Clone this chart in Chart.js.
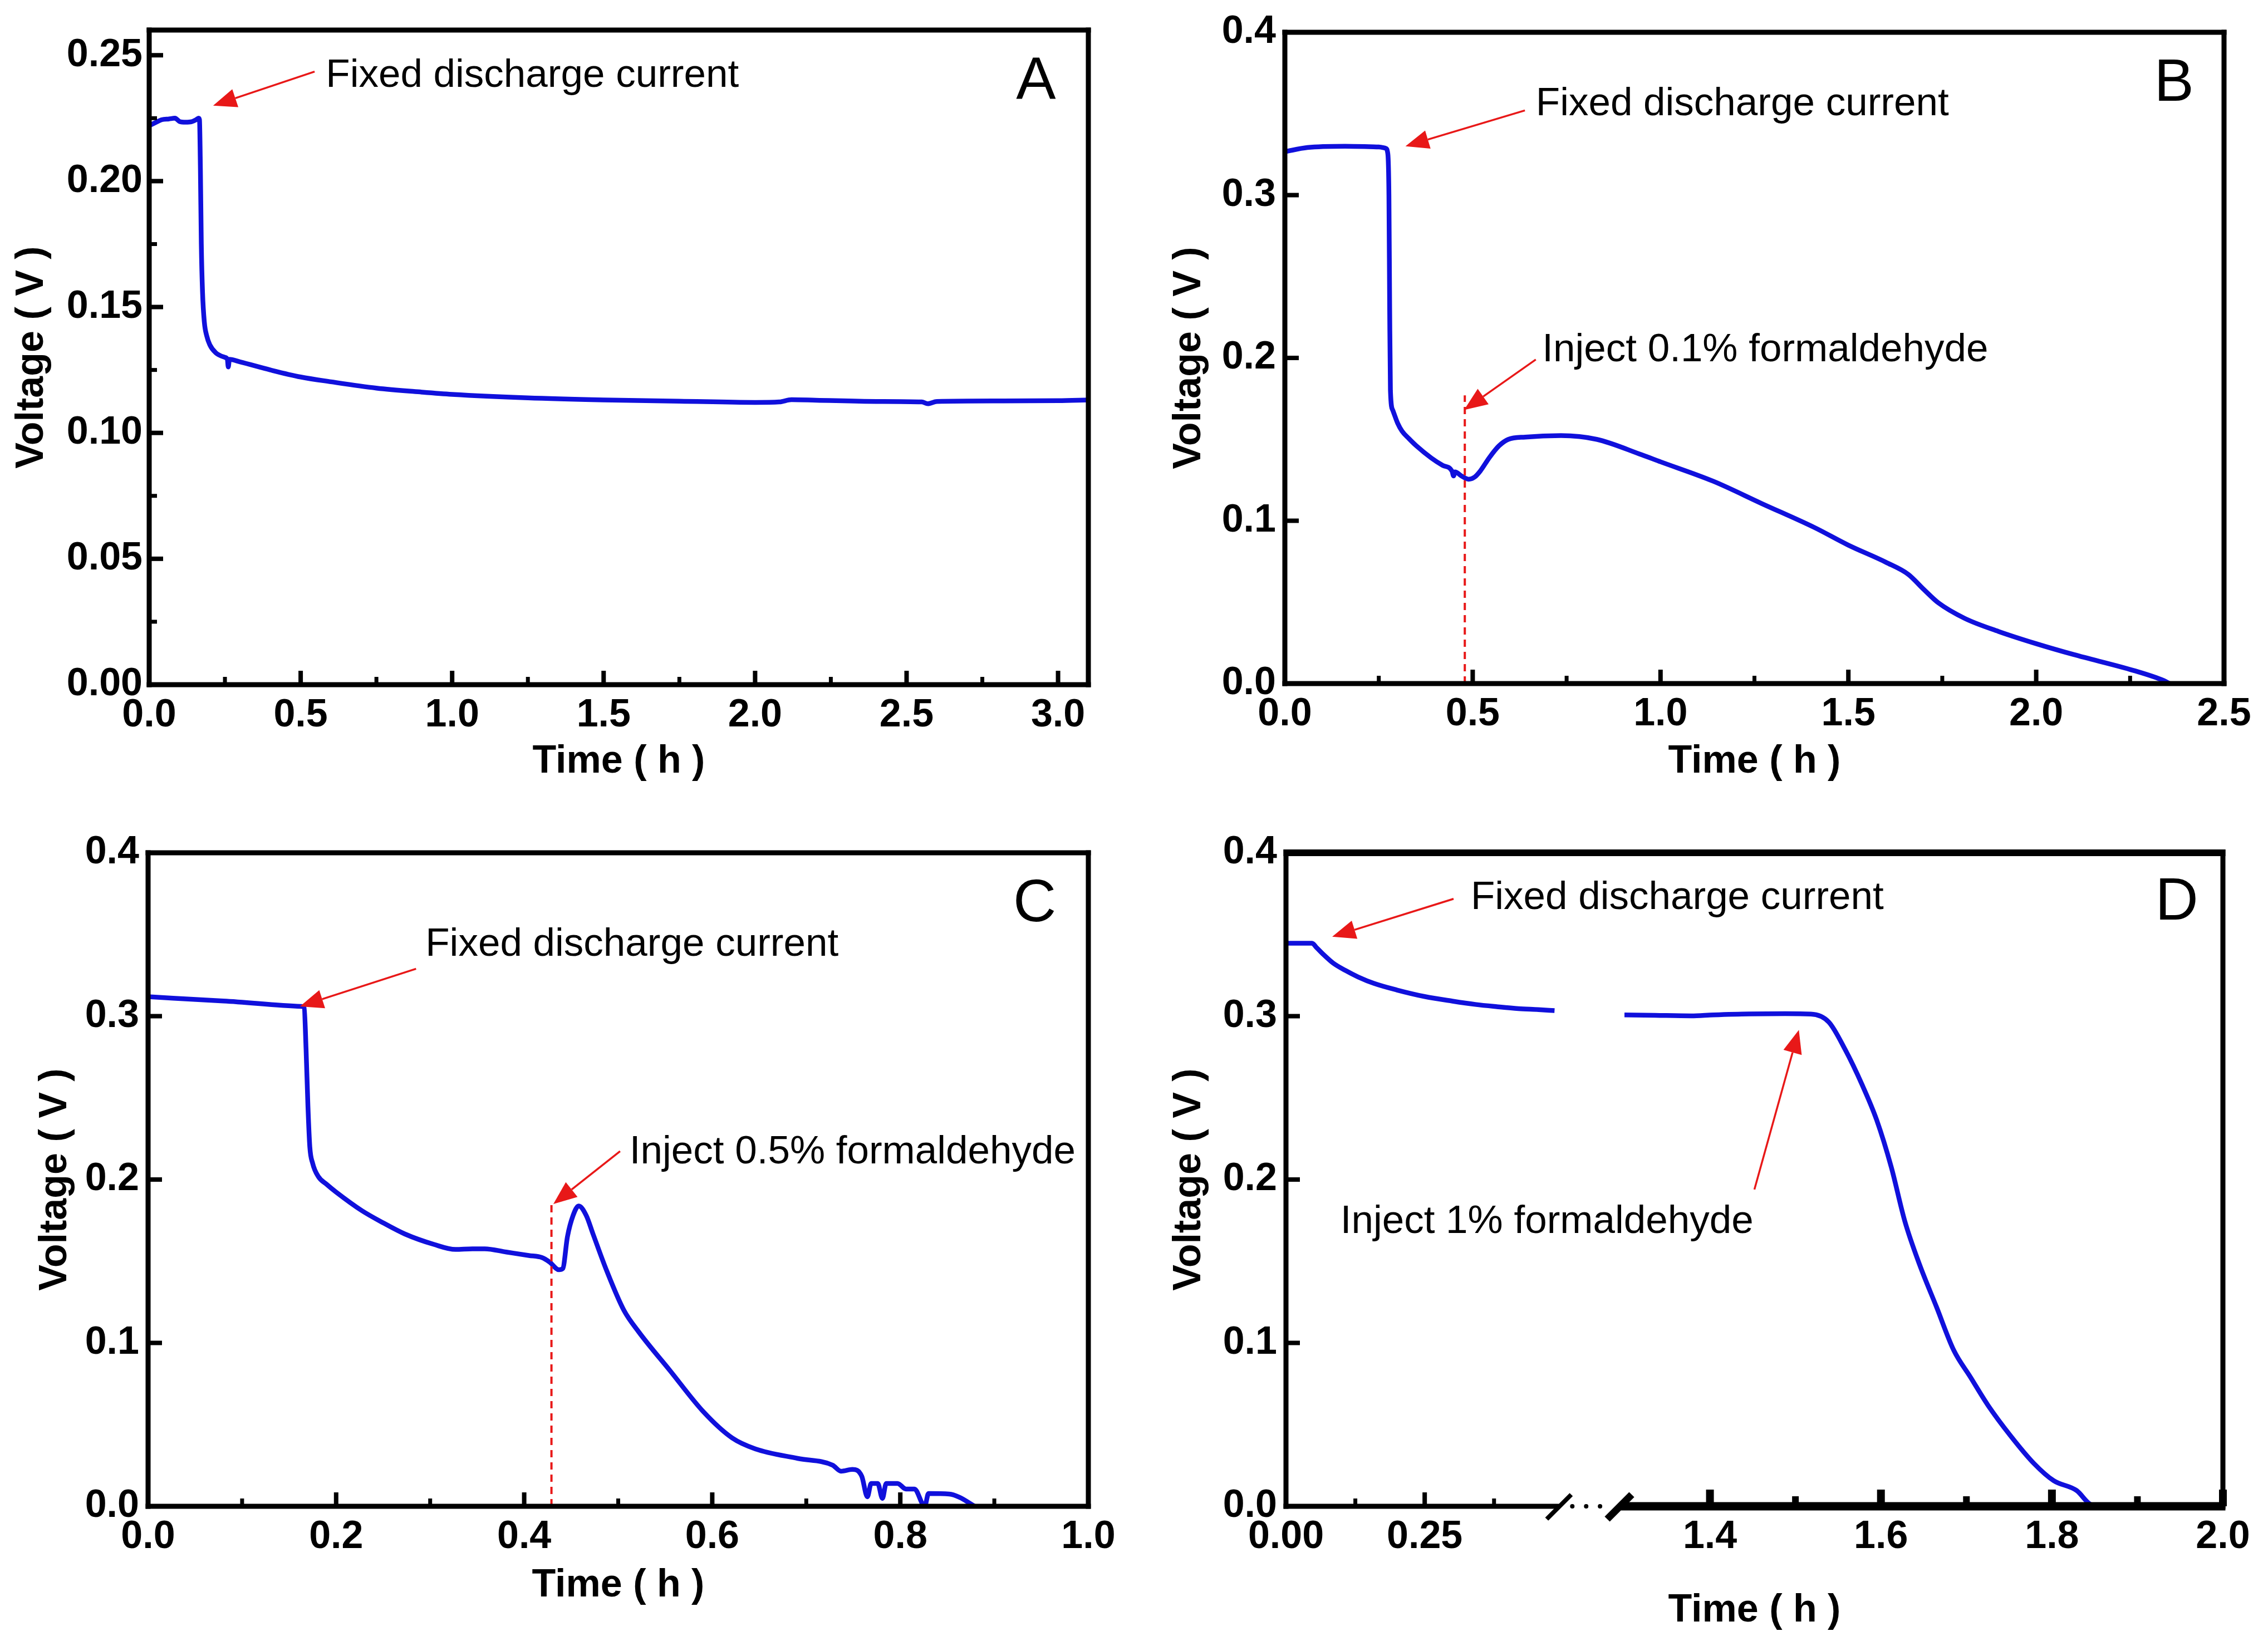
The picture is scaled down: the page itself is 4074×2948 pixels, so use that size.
<!DOCTYPE html>
<html>
<head>
<meta charset="utf-8">
<title>Voltage vs time</title>
<script src="https://cdn.jsdelivr.net/npm/chart.js@4.4.1/dist/chart.umd.min.js"></script>
<style>
  html, body { margin:0; padding:0; background:#ffffff; }
  body { width:4074px; height:2948px; position:relative; overflow:hidden; }
  .panel { position:absolute; width:2037px; height:1474px; }
  canvas { display:block; }
</style>
</head>
<body>
<div class="panel" style="left:0px;top:0px"><canvas id="chartA" width="2037" height="1474"></canvas></div>
<div class="panel" style="left:2037px;top:0px"><canvas id="chartB" width="2037" height="1474"></canvas></div>
<div class="panel" style="left:0px;top:1474px"><canvas id="chartC" width="2037" height="1474"></canvas></div>
<div class="panel" style="left:2037px;top:1474px"><canvas id="chartD" width="2037" height="1474"></canvas></div>
<script>
// ---------------- DATA ----------------
// Panel A
const timeA = [0, 0.02, 0.042, 0.065, 0.085, 0.10, 0.12, 0.14, 0.155, 0.163, 0.166, 0.169, 0.172, 0.176, 0.182, 0.19, 0.20, 0.22, 0.25, 0.258, 0.261, 0.265, 0.30, 0.40, 0.50, 0.60, 0.75, 0.90, 1.00, 1.25, 1.50, 1.75, 2.00, 2.08, 2.12, 2.20, 2.40, 2.55, 2.57, 2.60, 2.80, 3.00, 3.10];
const voltA = [0.2220, 0.2232, 0.2244, 0.2247, 0.2250, 0.2237, 0.2234, 0.2236, 0.2244, 0.2250, 0.2244, 0.2050, 0.1750, 0.1560, 0.1440, 0.1385, 0.1350, 0.1318, 0.1300, 0.1292, 0.1262, 0.1292, 0.1282, 0.1250, 0.1222, 0.1203, 0.1178, 0.1162, 0.1153, 0.1139, 0.1131, 0.1126, 0.1121, 0.1123, 0.1132, 0.1130, 0.1125, 0.1123, 0.1116, 0.1125, 0.1127, 0.1128, 0.1131];
const xTicksA = [0, 0.5, 1.0, 1.5, 2.0, 2.5, 3.0];
const xMinorA = [0.25, 0.75, 1.25, 1.75, 2.25, 2.75];
const yTicksA = [0, 0.05, 0.10, 0.15, 0.20, 0.25];
const yMinorA = [0.025, 0.075, 0.125, 0.175, 0.225];

// Panel B
const timeB = [0, 0.06, 0.16, 0.25, 0.268, 0.274, 0.277, 0.279, 0.281, 0.287, 0.30, 0.312, 0.33, 0.35, 0.39, 0.42, 0.445, 0.449, 0.453, 0.47, 0.489, 0.505, 0.52, 0.545, 0.57, 0.595, 0.64, 0.735, 0.83, 0.95, 1.00, 1.14, 1.27, 1.41, 1.50, 1.60, 1.66, 1.70, 1.74, 1.81, 1.90, 2.00, 2.10, 2.26, 2.34, 2.355];
const voltB = [0.3267, 0.3292, 0.3300, 0.3296, 0.3288, 0.3255, 0.3000, 0.2300, 0.1800, 0.1680, 0.1600, 0.1550, 0.1505, 0.1460, 0.1385, 0.1340, 0.1305, 0.1275, 0.1300, 0.1275, 0.1255, 0.1268, 0.1305, 0.1390, 0.1460, 0.1500, 0.1514, 0.1523, 0.1500, 0.1405, 0.1362, 0.1243, 0.1105, 0.0958, 0.0850, 0.0745, 0.0670, 0.0580, 0.0495, 0.0400, 0.0320, 0.0245, 0.0178, 0.0080, 0.0018, 0.0000];
const xTicksB = [0, 0.5, 1.0, 1.5, 2.0, 2.5];
const xMinorB = [0.25, 0.75, 1.25, 1.75, 2.25];
const yTicksBCD = [0, 0.1, 0.2, 0.3, 0.4];

// Panel C
const timeC = [0, 0.08, 0.163, 0.166, 0.168, 0.170, 0.172, 0.175, 0.181, 0.19, 0.20, 0.227, 0.25, 0.273, 0.304, 0.327, 0.345, 0.358, 0.381, 0.405, 0.419, 0.427, 0.437, 0.441, 0.446, 0.452, 0.458, 0.466, 0.473, 0.488, 0.506, 0.522, 0.555, 0.591, 0.621, 0.646, 0.691, 0.728, 0.737, 0.749, 0.759, 0.765, 0.769, 0.776, 0.781, 0.785, 0.797, 0.806, 0.815, 0.826, 0.830, 0.852, 0.863, 0.879];
const voltC = [0.3119, 0.3093, 0.3060, 0.3052, 0.2800, 0.2450, 0.2200, 0.2100, 0.2019, 0.1970, 0.1923, 0.1811, 0.1735, 0.1667, 0.1603, 0.1572, 0.1576, 0.1576, 0.1556, 0.1535, 0.1522, 0.1495, 0.1448, 0.1455, 0.1650, 0.1780, 0.1838, 0.1780, 0.1670, 0.1438, 0.1200, 0.1066, 0.0831, 0.0576, 0.0419, 0.0351, 0.0293, 0.0252, 0.0215, 0.0226, 0.0184, 0.0058, 0.0140, 0.0140, 0.0048, 0.0140, 0.0140, 0.0106, 0.0106, 0.0000, 0.0078, 0.0075, 0.0055, 0.0000];
const xTicksC = [0, 0.2, 0.4, 0.6, 0.8, 1.0];
const xMinorC = [0.1, 0.3, 0.5, 0.7, 0.9];

// Panel D (broken time axis)
const timeD1 = [0, 0.047, 0.055, 0.068, 0.085, 0.107, 0.13, 0.159, 0.20, 0.25, 0.30, 0.341, 0.38, 0.419, 0.455, 0.484];
const voltD1 = [0.3446, 0.3446, 0.3420, 0.3376, 0.3325, 0.3280, 0.3240, 0.3200, 0.3160, 0.3120, 0.3092, 0.3072, 0.3058, 0.3046, 0.3040, 0.3034];
const timeD2 = [1.30, 1.336, 1.378, 1.404, 1.446, 1.488, 1.518, 1.539, 1.558, 1.578, 1.595, 1.612, 1.628, 1.645, 1.665, 1.685, 1.705, 1.725, 1.752, 1.779, 1.802, 1.829, 1.845, 1.858];
const voltD2 = [0.3008, 0.3005, 0.3002, 0.3008, 0.3014, 0.3015, 0.3013, 0.2964, 0.2797, 0.2580, 0.2365, 0.2078, 0.1744, 0.1482, 0.1220, 0.0957, 0.0788, 0.0620, 0.0429, 0.0262, 0.0157, 0.0096, 0.0012, 0.0000];
const xTicksD1 = [0, 0.25];
const xMinorD1 = [0.125, 0.375];
const xTicksD2 = [1.4, 1.6, 1.8, 2.0];
const xMinorD2 = [1.5, 1.7, 1.9];

// ---------------- STYLE ----------------
const FONT = '"Liberation Sans", Arial, Helvetica, sans-serif';
const BLUE = 'rgb(16,16,220)';
const RED = 'rgb(232,24,24)';
const TICK_FONT = { family: FONT, size: 70, weight: 'bold' };
const TITLE_FONT = { family: FONT, size: 70, weight: 'bold' };

function pts(xs, ys) { return xs.map((x, i) => ({ x: x, y: ys[i] })); }

function series(xs, ys, xAxisID) {
  return {
    data: pts(xs, ys), xAxisID: xAxisID || 'x', yAxisID: 'y',
    showLine: true, borderColor: BLUE, borderWidth: 8.5, pointRadius: 0,
    fill: false, cubicInterpolationMode: 'monotone'
  };
}

function xScale(min, max, ticks, dec, height, titleText, extra) {
  return Object.assign({
    type: 'linear', position: 'bottom', min: min, max: max, offset: false,
    afterBuildTicks: s => { s.ticks = ticks.map(v => ({ value: v })); },
    afterFit: s => { s.height = height; },
    grid: { display: false, drawTicks: false },
    border: { display: false },
    ticks: { autoSkip: false, maxRotation: 0, minRotation: 0, padding: 14, color: '#000', font: TICK_FONT,
             callback: v => Number(v).toFixed(dec) },
    title: titleText ? { display: true, text: titleText, color: '#000', font: TITLE_FONT, padding: { top: 0, bottom: 0 } } : { display: false }
  }, extra || {});
}

function yScale(min, max, ticks, dec, width, titlePad, labelPad) {
  return {
    type: 'linear', position: 'left', min: min, max: max,
    afterBuildTicks: s => { s.ticks = ticks.map(v => ({ value: v })); },
    afterFit: s => { s.width = width; },
    grid: { display: false, drawTicks: false },
    border: { display: false },
    ticks: { autoSkip: false, padding: labelPad, color: '#000', font: TICK_FONT,
             callback: v => Number(v).toFixed(dec) },
    title: { display: true, text: 'Voltage ( V )', color: '#000', font: TITLE_FONT, padding: { top: titlePad, bottom: 0 } }
  };
}

function drawArrow(ctx, x0, y0, x1, y1) {
  const a = Math.atan2(y1 - y0, x1 - x0);
  const hl = 42, hw = 17;
  const bx = x1 - hl * Math.cos(a), by = y1 - hl * Math.sin(a);
  ctx.strokeStyle = RED; ctx.lineWidth = 3.5; ctx.lineCap = 'butt';
  ctx.beginPath(); ctx.moveTo(x0, y0); ctx.lineTo(bx, by); ctx.stroke();
  ctx.fillStyle = RED;
  ctx.beginPath();
  ctx.moveTo(x1, y1);
  ctx.lineTo(bx + hw * Math.sin(a), by - hw * Math.cos(a));
  ctx.lineTo(bx - hw * Math.sin(a), by + hw * Math.cos(a));
  ctx.closePath(); ctx.fill();
}

function line(ctx, x0, y0, x1, y1, w, cap) {
  ctx.lineWidth = w; ctx.lineCap = cap || 'butt';
  ctx.beginPath(); ctx.moveTo(x0, y0); ctx.lineTo(x1, y1); ctx.stroke();
}

function decor(cfg) {
  return {
    id: 'decor',
    afterDatasetsDraw(chart) {
      const ctx = chart.ctx, ca = chart.chartArea, ys = chart.scales.y;
      ctx.save();
      // dashed injection marker
      (cfg.dashed || []).forEach(d => {
        const px = chart.scales[d.xs].getPixelForValue(d.x);
        ctx.strokeStyle = RED; ctx.setLineDash([13, 9]);
        line(ctx, px, ys.getPixelForValue(0), px, ys.getPixelForValue(d.top), 4);
        ctx.setLineDash([]);
      });
      // inward ticks
      ctx.strokeStyle = '#000';
      Object.values(chart.scales).forEach(s => {
        const isX = s.axis === 'x';
        const st = (cfg.tickStyle && cfg.tickStyle[s.id]) || { w: [8, 7], l: [25, 14] };
        const draw = (v, k) => {
          const p = s.getPixelForValue(v);
          if (isX) line(ctx, p, ca.bottom, p, ca.bottom - st.l[k], st.w[k]);
          else line(ctx, ca.left, p, ca.left + st.l[k], p, st.w[k]);
        };
        s.ticks.forEach(t => draw(t.value, 0));
        ((cfg.minor || {})[s.id] || []).forEach(v => draw(v, 1));
      });
      // frame
      const f = cfg.frame;
      const L = ca.left, R = ca.right, T = ca.top, B = ca.bottom;
      line(ctx, L - f.l / 2, T, R + f.r / 2, T, f.t);
      line(ctx, L, T - f.t / 2, L, B + f.b / 2, f.l);
      line(ctx, R, T - f.t / 2, R, B + f.b / 2, f.r);
      if (!cfg.axisBreak) {
        line(ctx, L - f.l / 2, B, R + f.r / 2, B, f.b);
      } else {
        const br = cfg.axisBreak;
        const s1 = chart.scales[br.xs1], s2 = chart.scales[br.xs2];
        const c1 = s1.getPixelForValue(br.slash1), c2 = s1.getPixelForValue(br.slash2);
        line(ctx, L - f.l / 2, B, c1, B, f.b);
        line(ctx, s2.getPixelForValue(s2.min) - 6, B, R + f.r / 2, B, br.thick);
        line(ctx, c1 - 22, B + 23, c1 + 22, B - 21, 8);
        line(ctx, c2 - 22, B + 23, c2 + 22, B - 21, 13);
        ctx.fillStyle = '#000';
        br.dots.forEach(v => {
          ctx.beginPath(); ctx.arc(s1.getPixelForValue(v), B, 4, 0, Math.PI * 2); ctx.fill();
        });
      }
      // arrows
      (cfg.arrows || []).forEach(a => {
        const sx = chart.scales[a.xs];
        drawArrow(ctx, sx.getPixelForValue(a.from[0]), ys.getPixelForValue(a.from[1]),
                       sx.getPixelForValue(a.to[0]), ys.getPixelForValue(a.to[1]));
      });
      // annotation texts
      ctx.fillStyle = '#000';
      ctx.font = '71px ' + FONT; ctx.textAlign = 'left'; ctx.textBaseline = 'middle';
      (cfg.texts || []).forEach(t => {
        const sx = chart.scales[t.xs];
        ctx.fillText(t.text, sx.getPixelForValue(t.at[0]), ys.getPixelForValue(t.at[1]));
      });
      // panel letter
      if (cfg.letter) {
        const sx = chart.scales[cfg.letter.xs];
        ctx.font = '107px ' + FONT; ctx.textAlign = 'center'; ctx.textBaseline = 'middle';
        ctx.fillText(cfg.letter.text, sx.getPixelForValue(cfg.letter.at[0]), ys.getPixelForValue(cfg.letter.at[1]));
      }
      ctx.restore();
    }
  };
}

function baseOptions(padding, scales, extraPlugins) {
  return {
    responsive: false, maintainAspectRatio: false, animation: false, events: [],
    layout: { padding: padding },
    scales: scales,
    plugins: Object.assign({ legend: { display: false }, tooltip: { enabled: false }, title: { display: false } }, extraPlugins || {})
  };
}

const FRAME = { t: 9, r: 9, b: 9, l: 9 };

// ---------------- PANEL A ----------------
new Chart(document.getElementById('chartA'), {
  type: 'scatter',
  data: { datasets: [series(timeA, voltA, 'x')] },
  options: baseOptions({ left: 0, top: 47, right: 82, bottom: 63 }, {
    x: xScale(0, 3.1, xTicksA, 1, 181, 'Time ( h )'),
    y: yScale(0, 0.26, yTicksA, 2, 268, 16, 12)
  }),
  plugins: [decor({
    frame: FRAME,
    minor: { x: xMinorA, y: yMinorA },
    arrows: [{ xs: 'x', from: [0.546, 0.2435], to: [0.211, 0.2300] }],
    texts: [{ xs: 'x', at: [0.583, 0.2418], text: 'Fixed discharge current' }],
    letter: { xs: 'x', at: [2.927, 0.239], text: 'A' }
  })]
});

// ---------------- PANEL B ----------------
new Chart(document.getElementById('chartB'), {
  type: 'scatter',
  data: { datasets: [series(timeB, voltB, 'x')] },
  options: baseOptions({ left: 0, top: 48, right: 79, bottom: 63 }, {
    x: xScale(0, 2.5, xTicksB, 1, 183, 'Time ( h )'),
    y: yScale(0, 0.4, yTicksBCD, 1, 271, 58, 16)
  }),
  plugins: [decor({
    frame: FRAME,
    minor: { x: xMinorB },
    dashed: [{ xs: 'x', x: 0.479, top: 0.177 }],
    arrows: [
      { xs: 'x', from: [0.639, 0.352], to: [0.321, 0.330] },
      { xs: 'x', from: [0.668, 0.199], to: [0.477, 0.168] }
    ],
    texts: [
      { xs: 'x', at: [0.668, 0.3556], text: 'Fixed discharge current' },
      { xs: 'x', at: [0.685, 0.2048], text: 'Inject 0.1% formaldehyde' }
    ],
    letter: { xs: 'x', at: [2.367, 0.368], text: 'B' }
  })]
});

// ---------------- PANEL C ----------------
new Chart(document.getElementById('chartC'), {
  type: 'scatter',
  data: { datasets: [series(timeC, voltC, 'x')] },
  options: baseOptions({ left: 0, top: 58, right: 82, bottom: 57 }, {
    x: xScale(0, 1.0, xTicksC, 1, 185, 'Time ( h )'),
    y: yScale(0, 0.4, yTicksBCD, 1, 266, 58, 16)
  }),
  plugins: [decor({
    frame: FRAME,
    minor: { x: xMinorC },
    dashed: [{ xs: 'x', x: 0.429, top: 0.185 }],
    arrows: [
      { xs: 'x', from: [0.285, 0.329], to: [0.1615, 0.306] },
      { xs: 'x', from: [0.502, 0.2173], to: [0.431, 0.185] }
    ],
    texts: [
      { xs: 'x', at: [0.295, 0.3438], text: 'Fixed discharge current' },
      { xs: 'x', at: [0.512, 0.2164], text: 'Inject 0.5% formaldehyde' }
    ],
    letter: { xs: 'x', at: [0.943, 0.368], text: 'C' }
  })]
});

// ---------------- PANEL D ----------------
new Chart(document.getElementById('chartD'), {
  type: 'scatter',
  data: { datasets: [series(timeD1, voltD1, 'x1'), series(timeD2, voltD2, 'x2')] },
  options: baseOptions({ left: 0, top: 58, right: 81, bottom: 12 }, {
    x1: xScale(0, 0.61, xTicksD1, 2, 110, null, { stack: 'time', stackWeight: 608 }),
    x2: xScale(1.3, 2.0, xTicksD2, 1, 110, null, { stack: 'time', stackWeight: 1075 }),
    y: yScale(0, 0.4, yTicksBCD, 1, 273, 58, 16)
  }, {
    title: { display: true, text: 'Time ( h )', position: 'bottom', fullSize: false, align: 'center',
             color: '#000', font: TITLE_FONT, padding: { top: 36, bottom: 0 } }
  }),
  plugins: [decor({
    frame: { t: 12, r: 9, b: 9, l: 9 },
    minor: { x1: xMinorD1, x2: xMinorD2 },
    tickStyle: { x2: { w: [14, 12], l: [30, 18] } },
    axisBreak: { xs1: 'x1', xs2: 'x2', slash1: 0.492, slash2: 0.601, dots: [0.516, 0.541, 0.566], thick: 15 },
    arrows: [
      { xs: 'x1', from: [0.302, 0.3718], to: [0.0833, 0.3486] },
      { xs: 'x2', from: [1.452, 0.1939], to: [1.504, 0.2916] }
    ],
    texts: [
      { xs: 'x1', at: [0.333, 0.3724], text: 'Fixed discharge current' },
      { xs: 'x1', at: [0.098, 0.174], text: 'Inject 1% formaldehyde' }
    ],
    letter: { xs: 'x2', at: [1.946, 0.369], text: 'D' }
  })]
});
</script>
</body>
</html>
